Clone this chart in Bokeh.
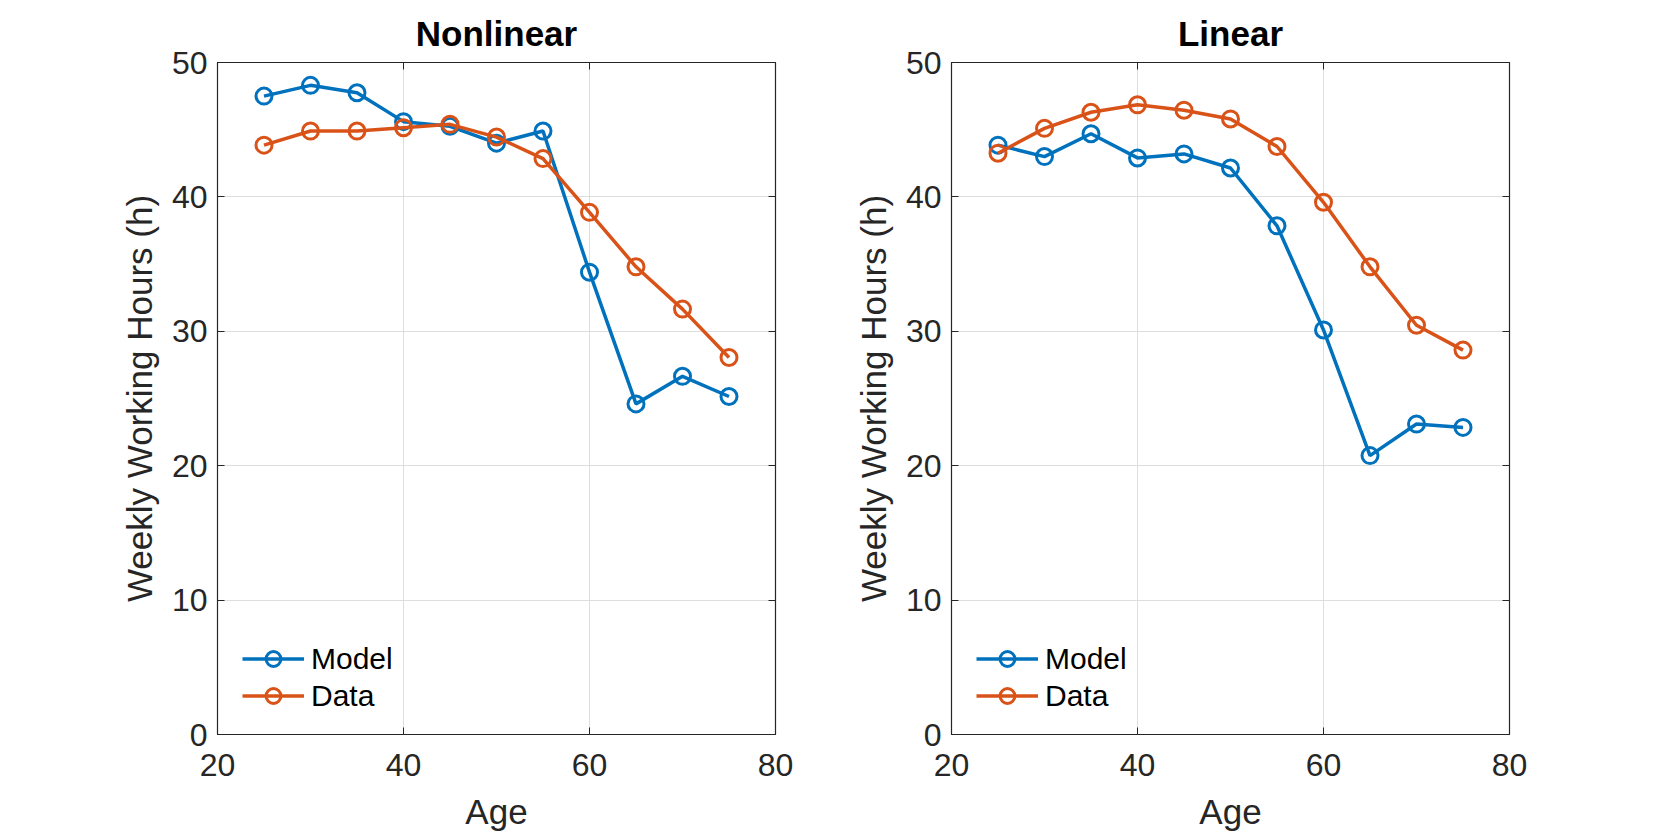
from bokeh.plotting import figure
from bokeh.layouts import row
from bokeh.models import LinearAxis, FixedTicker, Range1d, Legend, LegendItem, CustomJSTickFormatter
from bokeh.embed import file_html
from bokeh.resources import INLINE

ages = [25, 30, 35, 40, 45, 50, 55, 60, 65, 70, 75]
nonlinear_model = [47.5, 48.3, 47.75, 45.6, 45.25, 44.0, 44.9, 34.4, 24.6, 26.65, 25.15]
nonlinear_data = [43.85, 44.9, 44.9, 45.15, 45.4, 44.45, 42.85, 38.85, 34.8, 31.65, 28.05]
linear_model = [43.85, 43.0, 44.7, 42.9, 43.2, 42.15, 37.85, 30.1, 20.75, 23.1, 22.85]
linear_data = [43.25, 45.1, 46.3, 46.85, 46.45, 45.8, 43.75, 39.6, 34.8, 30.45, 28.6]
x_ticks = [20, 40, 60, 80]
y_ticks = [0, 10, 20, 30, 40, 50]
titles = ["Nonlinear", "Linear"]

BLUE = "#0072BD"
ORANGE = "#D95319"
AX = "#262626"
FONT = "Liberation Sans"


def make_panel(title, model, data, width, border_left, border_right):
    p = figure(width=width, height=833, output_backend="svg", toolbar_location=None,
               x_range=Range1d(20, 80), y_range=Range1d(0, 50),
               min_border_left=border_left, min_border_right=border_right,
               min_border_top=62, min_border_bottom=96, title=title)
    p.title.text_font = FONT
    p.title.text_font_size = "35px"
    p.title.text_font_style = "bold"
    p.title.text_color = "black"
    p.title.align = "center"
    p.title.standoff = 20
    p.outline_line_color = AX
    p.outline_line_width = 1.2
    p.background_fill_color = "white"
    p.border_fill_color = "white"

    for ax in (p.xaxis[0], p.yaxis[0]):
        ax.major_label_text_font = FONT
        ax.major_label_text_font_size = "32px"
        ax.major_label_text_color = AX
        ax.axis_label_text_font = FONT
        ax.axis_label_text_font_size = "35px"
        ax.axis_label_text_font_style = "normal"
        ax.axis_label_text_color = AX
        ax.axis_line_color = AX
        ax.major_tick_line_color = AX
        ax.major_tick_in = 7
        ax.major_tick_out = 0
        ax.minor_tick_line_color = None
    p.xaxis.ticker = FixedTicker(ticks=x_ticks)
    p.yaxis.ticker = FixedTicker(ticks=y_ticks)
    p.xaxis.axis_label = "Age"
    p.yaxis.axis_label = "Weekly Working Hours (h)"
    p.xaxis.major_label_standoff = 19
    p.yaxis.major_label_standoff = 10
    p.xaxis.axis_label_standoff = 13
    p.yaxis.axis_label_standoff = 10

    for side, ticks in (("right", y_ticks), ("above", x_ticks)):
        ax = LinearAxis(ticker=FixedTicker(ticks=ticks),
                        formatter=CustomJSTickFormatter(code="return ''"))
        ax.major_label_standoff = 0
        ax.axis_line_color = AX
        ax.major_tick_line_color = AX
        ax.major_tick_in = 7
        ax.major_tick_out = 0
        ax.minor_tick_line_color = None
        p.add_layout(ax, side)

    p.grid.grid_line_color = "#dedede"
    p.grid.grid_line_width = 1
    p.xgrid.ticker = FixedTicker(ticks=x_ticks)
    p.ygrid.ticker = FixedTicker(ticks=y_ticks)

    items = []
    for vals, color, label in ((model, BLUE, "Model"), (data, ORANGE, "Data")):
        l = p.line(ages, vals, line_color=color, line_width=3.5)
        s = p.scatter(ages, vals, marker="circle", size=16, fill_color=None,
                      line_color=color, line_width=3)
        items.append(LegendItem(label=label, renderers=[l, s]))

    legend = Legend(items=items, location=(25, 20))
    legend.label_text_font = FONT
    legend.label_text_font_size = "30px"
    legend.label_text_color = "black"
    legend.glyph_width = 62
    legend.glyph_height = 37
    legend.label_height = 37
    legend.label_standoff = 7
    legend.spacing = 0
    legend.padding = 0
    legend.margin = 0
    legend.border_line_color = None
    legend.background_fill_alpha = 0
    p.add_layout(legend, "center")
    return p


p1 = make_panel(titles[0], nonlinear_model, nonlinear_data, 808, 217, 33)
p2 = make_panel(titles[1], linear_model, linear_data, 851, 143, 150)
layout = row(p1, p2)

open("out.html", "w").write(file_html(layout, INLINE))
